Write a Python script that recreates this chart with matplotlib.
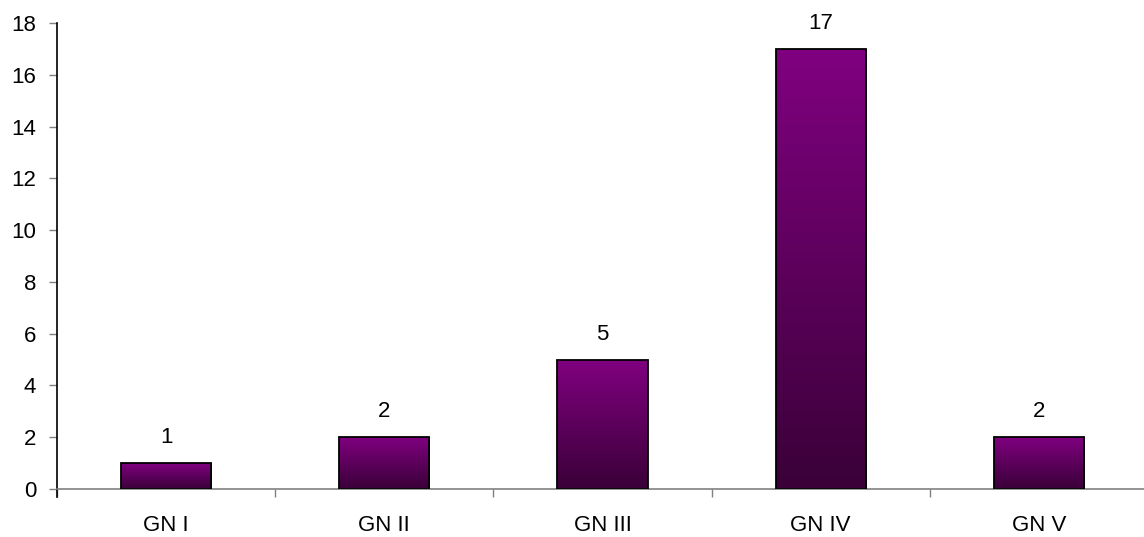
import matplotlib
matplotlib.use("Agg")
import matplotlib.pyplot as plt
import numpy as np
from matplotlib.colors import LinearSegmentedColormap

categories = ["GN I", "GN II", "GN III", "GN IV", "GN V"]
values = [1, 2, 5, 17, 2]

plt.rcParams['font.family'] = ['Liberation Sans', 'DejaVu Sans']

W, H = 1144, 537
fig = plt.figure(figsize=(W / 100, H / 100), dpi=100)
x0, x1 = 57, 1148
y0, y1 = 489, 23
ax = fig.add_axes([x0 / W, 1 - y0 / H, (x1 - x0) / W, (y0 - y1) / H])

x = np.arange(len(categories))
bw = 0.413
bars = ax.bar(x, values, width=bw, color='none', edgecolor='black', linewidth=1.3, zorder=3)

cmap = LinearSegmentedColormap.from_list("pg", ["#3a0038", "#800080"])
grad = np.linspace(0, 1, 256).reshape(-1, 1)
for b in bars:
    bx, by = b.get_x(), b.get_y()
    bwid, bh = b.get_width(), b.get_height()
    im = ax.imshow(grad, cmap=cmap, origin='lower', aspect='auto',
                   extent=[bx, bx + bwid, by, by + bh], zorder=2, interpolation='bilinear')
    im.set_clip_path(b)

for xi, v in zip(x, values):
    ax.annotate(str(v), (xi, v), xytext=(0, 14.4), textcoords='offset points',
                ha='center', va='baseline', fontsize=16)

ax.set_xlim(-0.5, len(categories) - 0.5)
ax.set_ylim(0, 18)
ax.set_yticks(np.arange(0, 19, 2))
ax.set_xticks(x)
ax.set_xticklabels(categories)
ax.set_xticks(np.arange(-0.5, len(categories), 1), minor=True)
ax.tick_params(axis='x', which='major', length=0, pad=19, labelsize=16)
ax.tick_params(axis='x', which='minor', length=6, width=1, color='#808080', direction='out')
ax.tick_params(axis='y', length=6, width=1, color='#808080', pad=9, labelsize=16, direction='out')

for s in ['top', 'right']:
    ax.spines[s].set_visible(False)
ax.spines['left'].set_color('black')
ax.spines['left'].set_linewidth(1.2)
ax.spines['left'].set_bounds(-0.3, 18)
ax.spines['bottom'].set_color('#808080')
ax.spines['bottom'].set_linewidth(1.2)

fig.savefig("out.png", dpi=100)
